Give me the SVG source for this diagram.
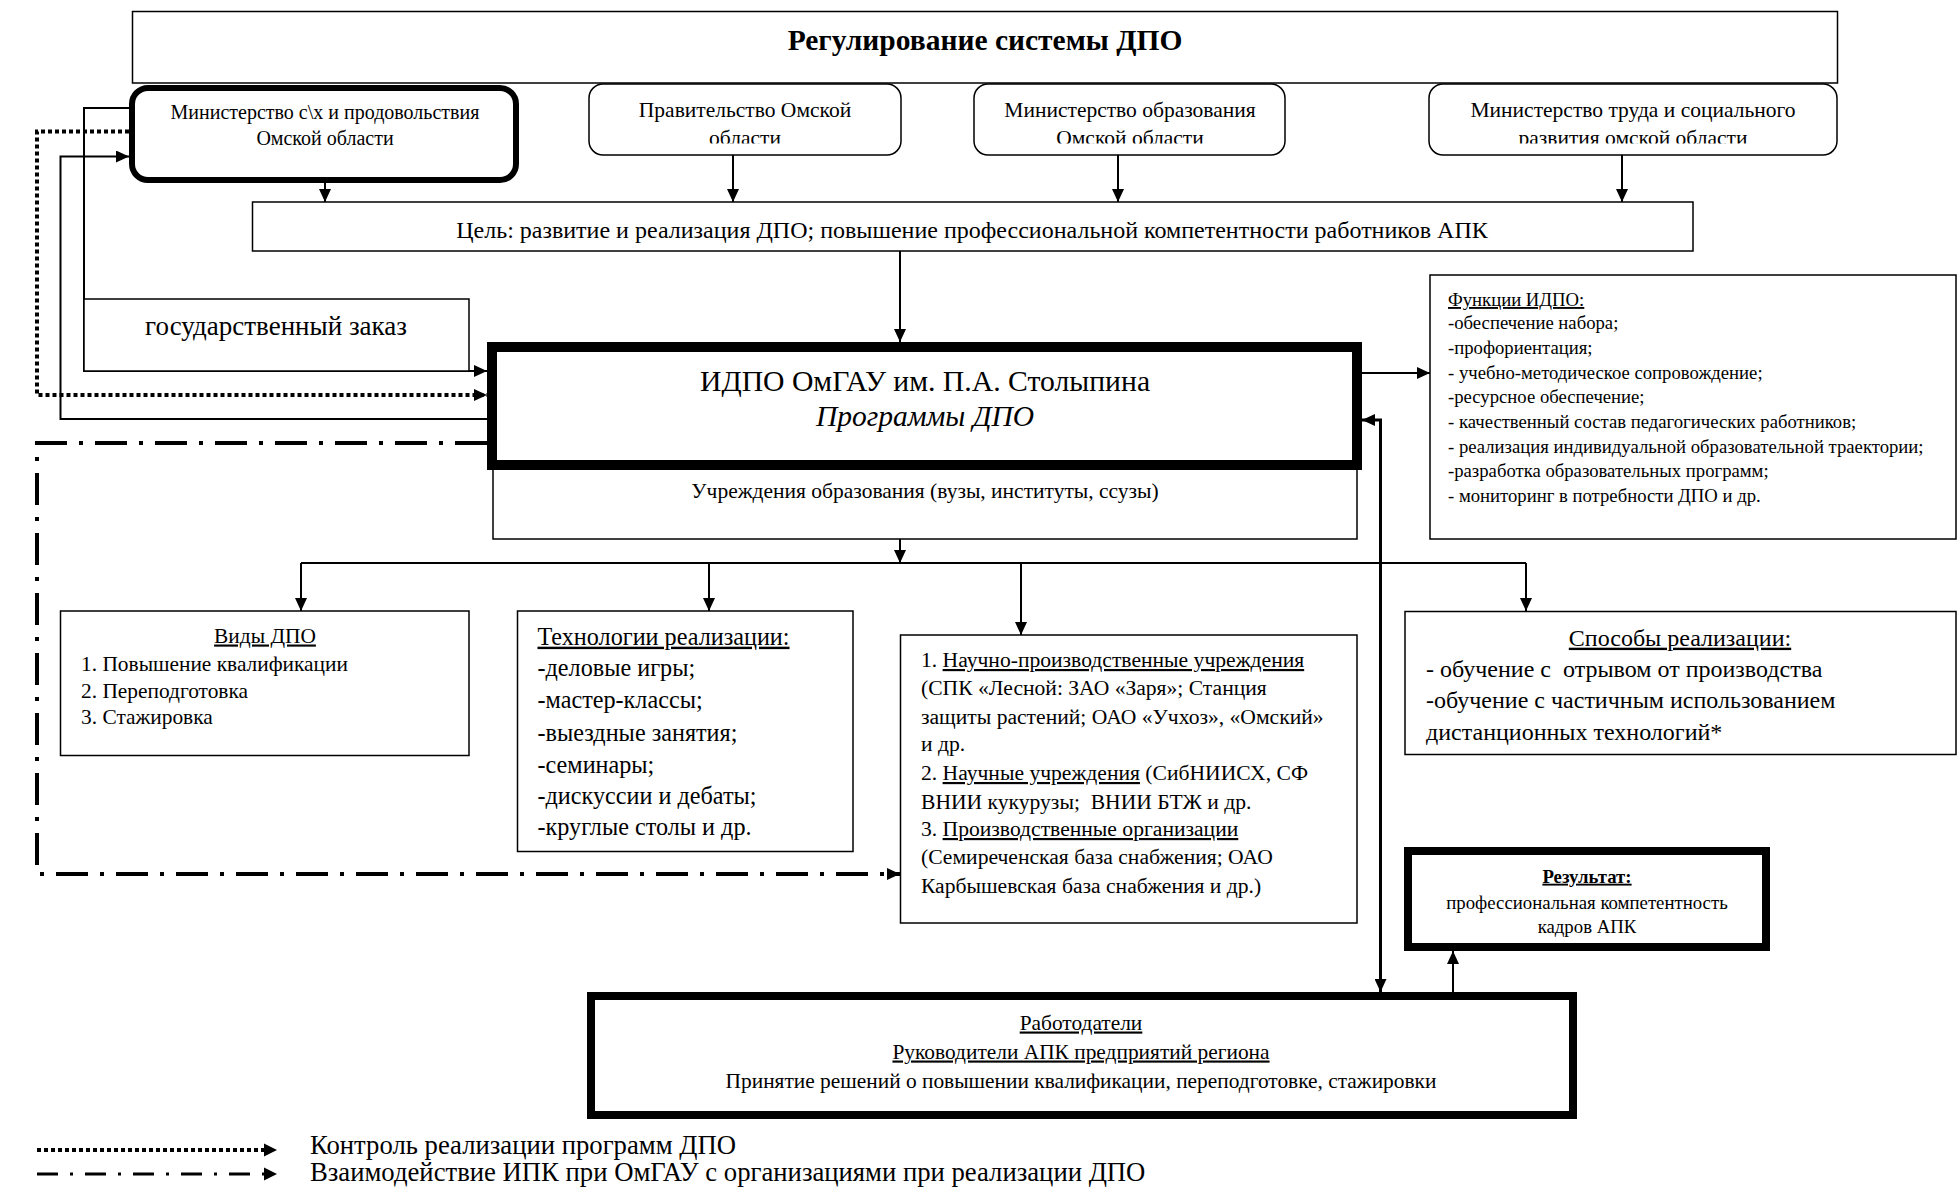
<svg xmlns="http://www.w3.org/2000/svg" width="1957" height="1188" viewBox="0 0 1957 1188">
<style>
text{font-family:"Liberation Serif","Times New Roman",serif;fill:#000}
.box{fill:#fff;stroke:#000;stroke-width:1.5}
.thick{fill:#fff;stroke:#000}
.c{fill:none;stroke:#000;stroke-width:2}
.dot{stroke-width:4;stroke-dasharray:4 3}
.dd{stroke-width:4;stroke-dasharray:32 12 4 12}
.dbl{stroke-width:3}
.u{text-decoration:underline}
.m{text-anchor:middle}
</style>
<defs>
<marker id="ah" viewBox="0 0 13 12" refX="13" refY="6" markerWidth="13" markerHeight="12" markerUnits="userSpaceOnUse" orient="auto-start-reverse"><path d="M0,0 L13,6 L0,12 z" fill="#000"/></marker>
<clipPath id="clipTop"><rect x="0" y="84" width="1957" height="59.5"/></clipPath>
</defs>
<rect width="1957" height="1188" fill="#fff"/>

<g id="connectors">
<path class="c" d="M325,183 L325,202" marker-end="url(#ah)"/>
<path class="c" d="M733,155 L733,202" marker-end="url(#ah)"/>
<path class="c" d="M1118,155 L1118,202" marker-end="url(#ah)"/>
<path class="c" d="M1622,155 L1622,202" marker-end="url(#ah)"/>
<path class="c" d="M900,251 L900,342" marker-end="url(#ah)"/>
<path class="c" d="M129,108 L84,108 L84,371 L487,371" marker-end="url(#ah)"/>
<path class="c dot" d="M129,131.5 L37,131.5 L37,395 L487,395" marker-end="url(#ah)"/>
<path class="c" d="M487,419 L60.5,419 L60.5,156.5 L129,156.5" marker-end="url(#ah)"/>
<path class="c dd" d="M487,443 L37,443 L37,874 L900,874" marker-end="url(#ah)"/>
<path class="c" d="M1362,373 L1430,373" marker-end="url(#ah)"/>
<path class="c dbl" d="M1362,420 L1380.5,420 L1380.5,992" marker-start="url(#ah)" marker-end="url(#ah)"/>
<path class="c" d="M900,539 L900,563" marker-end="url(#ah)"/>
<path class="c" d="M301,563 L1526,563"/>
<path class="c" d="M301,563 L301,611" marker-end="url(#ah)"/>
<path class="c" d="M709,563 L709,611" marker-end="url(#ah)"/>
<path class="c" d="M1021,563 L1021,635" marker-end="url(#ah)"/>
<path class="c" d="M1526,563 L1526,611" marker-end="url(#ah)"/>
<path class="c" d="M1453,992 L1453,951" marker-end="url(#ah)"/>
</g>

<g id="regulation">
<rect class="box" x="132.5" y="11.5" width="1705" height="71.5"/>
<text class="m" x="985" y="49.5" font-size="29.5" font-weight="bold">Регулирование системы ДПО</text>
</g>

<g id="min-agri">
<rect class="thick" x="132" y="88" width="384" height="92" rx="16" stroke-width="6"/>
<text class="m" x="325" y="119" font-size="20">Министерство с\х и продовольствия</text>
<text class="m" x="325" y="144.5" font-size="20">Омской области</text>
</g>

<g id="gov">
<rect class="box" x="589" y="84" width="312" height="71" rx="14"/>
<g clip-path="url(#clipTop)">
<text class="m" x="745" y="117" font-size="21.5">Правительство Омской</text>
<text class="m" x="745" y="145" font-size="21.5">области</text>
</g>
</g>

<g id="min-edu">
<rect class="box" x="974" y="84" width="311" height="71" rx="14"/>
<g clip-path="url(#clipTop)">
<text class="m" x="1130" y="117" font-size="21.5">Министерство образования</text>
<text class="m" x="1130" y="145" font-size="21.5">Омской области</text>
</g>
</g>

<g id="min-labor">
<rect class="box" x="1429" y="84" width="408" height="71" rx="14"/>
<g clip-path="url(#clipTop)">
<text class="m" x="1633" y="117" font-size="21.5">Министерство труда и социального</text>
<text class="m" x="1633" y="145" font-size="21.5">развития омской области</text>
</g>
</g>

<g id="goal">
<rect class="box" x="252.5" y="202" width="1440.5" height="49"/>
<text class="m" x="972" y="237.7" font-size="24">Цель: развитие и реализация ДПО; повышение профессиональной компетентности работников АПК</text>
</g>

<g id="gos-zakaz">
<rect class="box" x="84" y="299" width="385" height="72"/>
<text class="m" x="276" y="335" font-size="27">государственный заказ</text>
</g>

<g id="uchrezhdeniya">
<rect class="box" x="493" y="465" width="864" height="74"/>
<text class="m" x="925" y="497.6" font-size="21.5">Учреждения образования (вузы, институты, ссузы)</text>
</g>

<g id="idpo">
<rect class="thick" x="492" y="347" width="865" height="118" stroke-width="10"/>
<text class="m" x="925" y="391" font-size="29.7">ИДПО ОмГАУ им. П.А. Столыпина</text>
<text class="m" x="925" y="426" font-size="29.5" font-style="italic">Программы ДПО</text>
</g>

<g id="functions">
<rect class="box" x="1430" y="275" width="526" height="264"/>
<g font-size="18.7">
<text x="1448" y="306" class="u">Функции ИДПО:</text>
<text x="1448" y="328.7">-обеспечение набора;</text>
<text x="1448" y="354">-профориентация;</text>
<text x="1448" y="378.7">- учебно-методическое сопровождение;</text>
<text x="1448" y="402.7">-ресурсное обеспечение;</text>
<text x="1448" y="428">- качественный состав педагогических работников;</text>
<text x="1448" y="452.7">- реализация индивидуальной образовательной траектории;</text>
<text x="1448" y="476.7">-разработка образовательных программ;</text>
<text x="1448" y="502">- мониторинг в потребности ДПО и др.</text>
</g>
</g>

<g id="vidy">
<rect class="box" x="60.5" y="611" width="408.5" height="144.5"/>
<g font-size="21.4">
<text class="m u" x="265" y="642.5">Виды ДПО</text>
<text x="81" y="671">1. Повышение квалификации</text>
<text x="81" y="698">2. Переподготовка</text>
<text x="81" y="723.5">3. Стажировка</text>
</g>
</g>

<g id="tech">
<rect class="box" x="517.5" y="611" width="335.5" height="240.5"/>
<g font-size="24.2">
<text class="u" x="537.5" y="644.7">Технологии реализации:</text>
<text x="537.5" y="675.7">-деловые игры;</text>
<text x="537.5" y="708.4">-мастер-классы;</text>
<text x="537.5" y="740.7">-выездные занятия;</text>
<text x="537.5" y="772.7">-семинары;</text>
<text x="537.5" y="804.4">-дискуссии и дебаты;</text>
<text x="537.5" y="834.7">-круглые столы и др.</text>
</g>
</g>

<g id="orgs">
<rect class="box" x="900.5" y="635" width="456.5" height="288"/>
<g font-size="21.6">
<text x="921" y="667">1. <tspan class="u">Научно-производственные учреждения</tspan></text>
<text x="921" y="695">(СПК «Лесной: ЗАО «Заря»; Станция</text>
<text x="921" y="723.6">защиты растений; ОАО «Учхоз», «Омский»</text>
<text x="921" y="751">и др.</text>
<text x="921" y="780">2. <tspan class="u">Научные учреждения</tspan> (СибНИИСХ, СФ</text>
<text x="921" y="808.6" xml:space="preserve">ВНИИ кукурузы;  ВНИИ БТЖ и др.</text>
<text x="921" y="836">3. <tspan class="u">Производственные организации</tspan></text>
<text x="921" y="864">(Семиреченская база снабжения; ОАО</text>
<text x="921" y="893">Карбышевская база снабжения и др.)</text>
</g>
</g>

<g id="sposoby">
<rect class="box" x="1405" y="611.5" width="551" height="143"/>
<g font-size="24">
<text class="m u" x="1680" y="645.7">Способы реализации:</text>
<text x="1426" y="676.7" xml:space="preserve">- обучение с  отрывом от производства</text>
<text x="1426" y="708.4">-обучение с частичным использованием</text>
<text x="1426" y="740.4">дистанционных технологий*</text>
</g>
</g>

<g id="result">
<rect class="thick" x="1408" y="851" width="358" height="96" stroke-width="8"/>
<g font-size="18.8">
<text class="m u" x="1587" y="882.7" font-weight="bold">Результат:</text>
<text class="m" x="1587" y="908.7">профессиональная компетентность</text>
<text class="m" x="1587" y="932.7">кадров АПК</text>
</g>
</g>

<g id="employers">
<rect class="thick" x="591" y="996" width="982" height="119" stroke-width="8"/>
<g font-size="21.4">
<text class="m u" x="1081" y="1029.5">Работодатели</text>
<text class="m u" x="1081" y="1058.5">Руководители АПК предприятий региона</text>
<text class="m" x="1081" y="1088">Принятие решений о повышении квалификации, переподготовке, стажировки</text>
</g>
</g>

<g id="legend">
<path class="c dot" d="M37,1150 L265,1150"/>
<path d="M264,1143.5 L277,1150 L264,1156.5 z" fill="#000"/>
<path class="c" d="M37,1174 L265,1174" style="stroke-width:3;stroke-dasharray:21 12 3 12"/>
<path d="M264,1167.5 L277,1174 L264,1180.5 z" fill="#000"/>
<text x="310" y="1153.5" font-size="26.7">Контроль реализации программ ДПО</text>
<text x="310" y="1181" font-size="26.7">Взаимодействие ИПК при ОмГАУ с организациями при реализации ДПО</text>
</g>
</svg>
